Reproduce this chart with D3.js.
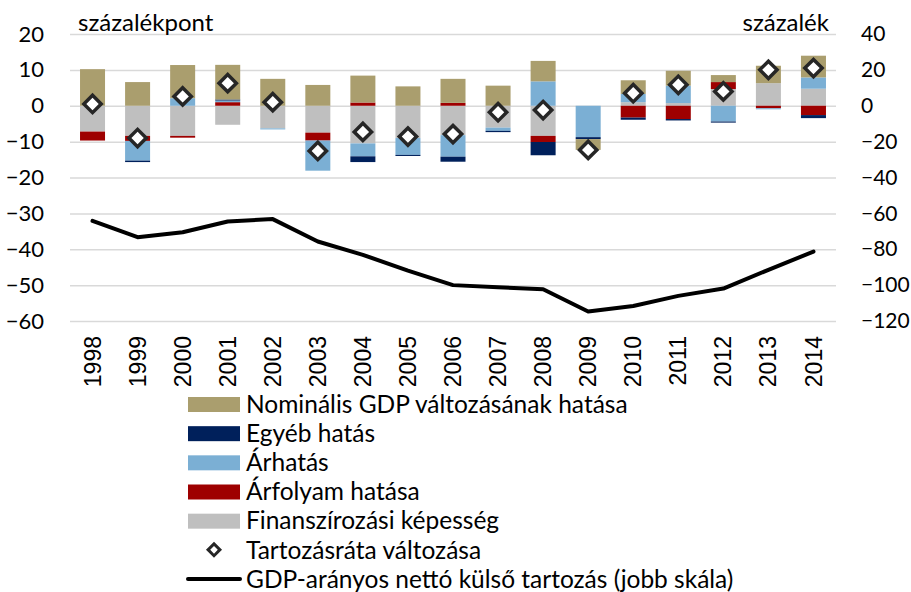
<!DOCTYPE html>
<html>
<head>
<meta charset="utf-8">
<script src="https://cdn.jsdelivr.net/npm/d3@7"></script>
<style>
  html, body { margin: 0; padding: 0; background: #ffffff; }
  svg { display: block; }
</style>
</head>
<body>
<svg id="chart" width="911" height="592"></svg>
<script>
// ---- data ----
const years = ["1998","1999","2000","2001","2002","2003","2004","2005","2006","2007","2008","2009","2010","2011","2012","2013","2014"];
const nominalGDP   = [10.2, 6.6, 9.25, 9.65, 7.5, 5.8, 7.5, 5.4, 6.7, 5.6, 5.7, -3.0, 3.8, 4.15, 1.95, 4.85, 6.05];
const otherEffect  = [0, -0.4, 0, 0.3, 0, 0, -1.6, -0.3, -1.4, -0.35, -3.7, -0.55, -0.6, -0.4, -0.3, 0, -0.85];
const priceEffect  = [0, -5.5, 2.1, 0.45, -0.3, -8.4, -3.6, -4.7, -6.0, -0.9, 6.8, -8.75, 2.3, 4.85, -4.4, -0.3, 3.15];
const fxEffect     = [-2.5, -1.4, -0.5, 1.0, 0, -2.2, 0.9, 0, 0.8, 0, -1.7, 0, -3.3, -3.7, 1.95, -0.7, -2.6];
const financing    = [-7.2, -8.4, -8.4, -5.3, -6.3, -7.5, -10.5, -9.0, -8.2, -6.1, -8.4, 0, 1.0, 0.75, 4.65, 6.3, 4.75];
const debtRatioChange = [0.5, -9.0, 2.6, 6.3, 1.0, -12.6, -7.3, -8.6, -7.9, -1.8, -1.2, -12.3, 3.5, 5.85, 4.0, 10.0, 10.5];
const netExternalDebt = [-64.2, -73.3, -70.5, -64.5, -63.2, -75.7, -83.1, -91.9, -100.0, -101.2, -102.3, -114.7, -111.6, -106.0, -101.9, -91.5, -81.3];
const leftTicks  = [20, 10, 0, -10, -20, -30, -40, -50, -60];
const rightTicks = [40, 20, 0, -20, -40, -60, -80, -100, -120];

const seriesKeys   = ["fin", "fx", "price", "other", "nominal"];
const seriesNames  = {
  nominal: "Nominális GDP változásának hatása",
  other: "Egyéb hatás",
  price: "Árhatás",
  fx: "Árfolyam hatása",
  fin: "Finanszírozási képesség"
};
const seriesColors = { nominal: "#AA9E6E", other: "#00205B", price: "#7BAFD4", fx: "#9E0000", fin: "#BFBFBF" };
const legendOrder = ["nominal", "other", "price", "fx", "fin"];
const diamondLabel = "Tartozásráta változása";
const lineLabel = "GDP-arányos nettó külső tartozás (jobb skála)";

(function () {
const rows = years.map((y, i) => ({
  year: y, nominal: nominalGDP[i], other: otherEffect[i], price: priceEffect[i],
  fx: fxEffect[i], fin: financing[i], change: debtRatioChange[i], debt: netExternalDebt[i]
}));

const svg = d3.select("#chart");
const FONT = "Lato, 'Open Sans', sans-serif";
const pL = 70, pR = 836, pT = 34, pB = 321;

const x = d3.scaleBand().domain(years).range([pL, pR]).paddingInner(0.445).paddingOuter(0.2225);
const yL = d3.scaleLinear().domain([-60, 20]).range([pB, pT]);
const yR = d3.scaleLinear().domain([-120, 40]).range([pB, pT]);

// gridlines
const grid = svg.append("g").attr("transform", `translate(${pL},0)`)
  .call(d3.axisLeft(yL).tickValues(leftTicks).tickSize(-(pR - pL)).tickFormat(""));
grid.select(".domain").remove();
grid.selectAll(".tick line").attr("stroke", "#D9D9D9").attr("stroke-width", 1.5);

// left axis labels
const axL = svg.append("g").attr("transform", `translate(${pL},0)`)
  .call(d3.axisLeft(yL).tickValues(leftTicks).tickSize(0).tickPadding(26).tickFormat(d3.format("d")));
axL.select(".domain").remove();
axL.selectAll("text").attr("font-family", FONT).attr("font-size", 22).attr("fill", "#000");

// right axis labels
const axR = svg.append("g").attr("transform", `translate(${pR},0)`)
  .call(d3.axisRight(yR).tickValues(rightTicks).tickSize(0).tickPadding(25).tickFormat(d3.format("d")));
axR.select(".domain").remove();
axR.selectAll("text").attr("font-family", FONT).attr("font-size", 21).attr("fill", "#000");

// stacked bars
const stack = d3.stack().keys(seriesKeys).offset(d3.stackOffsetDiverging);
const stacked = stack(rows);
svg.append("g").selectAll("g").data(stacked).join("g")
  .attr("fill", d => seriesColors[d.key])
  .selectAll("rect").data(d => d).join("rect")
  .attr("x", d => x(d.data.year))
  .attr("width", x.bandwidth())
  .attr("y", d => yL(Math.max(d[0], d[1])))
  .attr("height", d => Math.abs(yL(d[0]) - yL(d[1])));

// line (right scale)
const line = d3.line().x(d => x(d.year) + x.bandwidth() / 2).y(d => yR(d.debt));
svg.append("path").datum(rows).attr("d", line)
  .attr("fill", "none").attr("stroke", "#000").attr("stroke-width", 4)
  .attr("stroke-linejoin", "round").attr("stroke-linecap", "round");

// diamonds
const diamond = d3.symbol().type(d3.symbolSquare).size(150);
svg.append("g").selectAll("path").data(rows).join("path")
  .attr("d", diamond)
  .attr("transform", d => `translate(${x(d.year) + x.bandwidth() / 2},${yL(d.change)}) rotate(45)`)
  .attr("fill", "#fff").attr("stroke", "#262626").attr("stroke-width", 3.5);

// x labels
svg.append("g").selectAll("text").data(years).join("text")
  .attr("transform", d => `translate(${x(d) + x.bandwidth() / 2},336) rotate(-90)`)
  .attr("text-anchor", "end").attr("dy", "0.35em")
  .attr("font-family", "'Liberation Sans', Arial, sans-serif").attr("font-size", 23)
  .text(d => d);

// unit labels
svg.append("text").attr("x", 78).attr("y", 31).attr("font-family", FONT).attr("font-size", 24).text("százalékpont");
svg.append("text").attr("x", 829).attr("y", 31).attr("text-anchor", "end").attr("font-family", FONT).attr("font-size", 24).text("százalék");

// legend
const LFS = 24.5;
const lg = svg.append("g");
const rowY = d3.scalePoint().domain(d3.range(7)).range([404, 579]);
legendOrder.forEach((k, i) => {
  lg.append("rect").attr("x", 188).attr("y", rowY(i) - 7).attr("width", 52).attr("height", 15).attr("fill", seriesColors[k]);
  lg.append("text").attr("x", 246).attr("y", rowY(i)).attr("dy", "0.36em")
    .attr("font-family", FONT).attr("font-size", LFS).text(seriesNames[k]);
});
lg.append("path").attr("d", d3.symbol().type(d3.symbolSquare).size(70))
  .attr("transform", `translate(214,${rowY(5)}) rotate(45)`)
  .attr("fill", "#fff").attr("stroke", "#262626").attr("stroke-width", 3);
lg.append("text").attr("x", 246).attr("y", rowY(5)).attr("dy", "0.36em")
  .attr("font-family", FONT).attr("font-size", LFS).text(diamondLabel);
lg.append("line").attr("x1", 188).attr("x2", 240).attr("y1", rowY(6)).attr("y2", rowY(6))
  .attr("stroke", "#000").attr("stroke-width", 4).attr("stroke-linecap", "round");
lg.append("text").attr("x", 246).attr("y", rowY(6)).attr("dy", "0.36em")
  .attr("font-family", FONT).attr("font-size", LFS).text(lineLabel);
})();
</script>
</body>
</html>
